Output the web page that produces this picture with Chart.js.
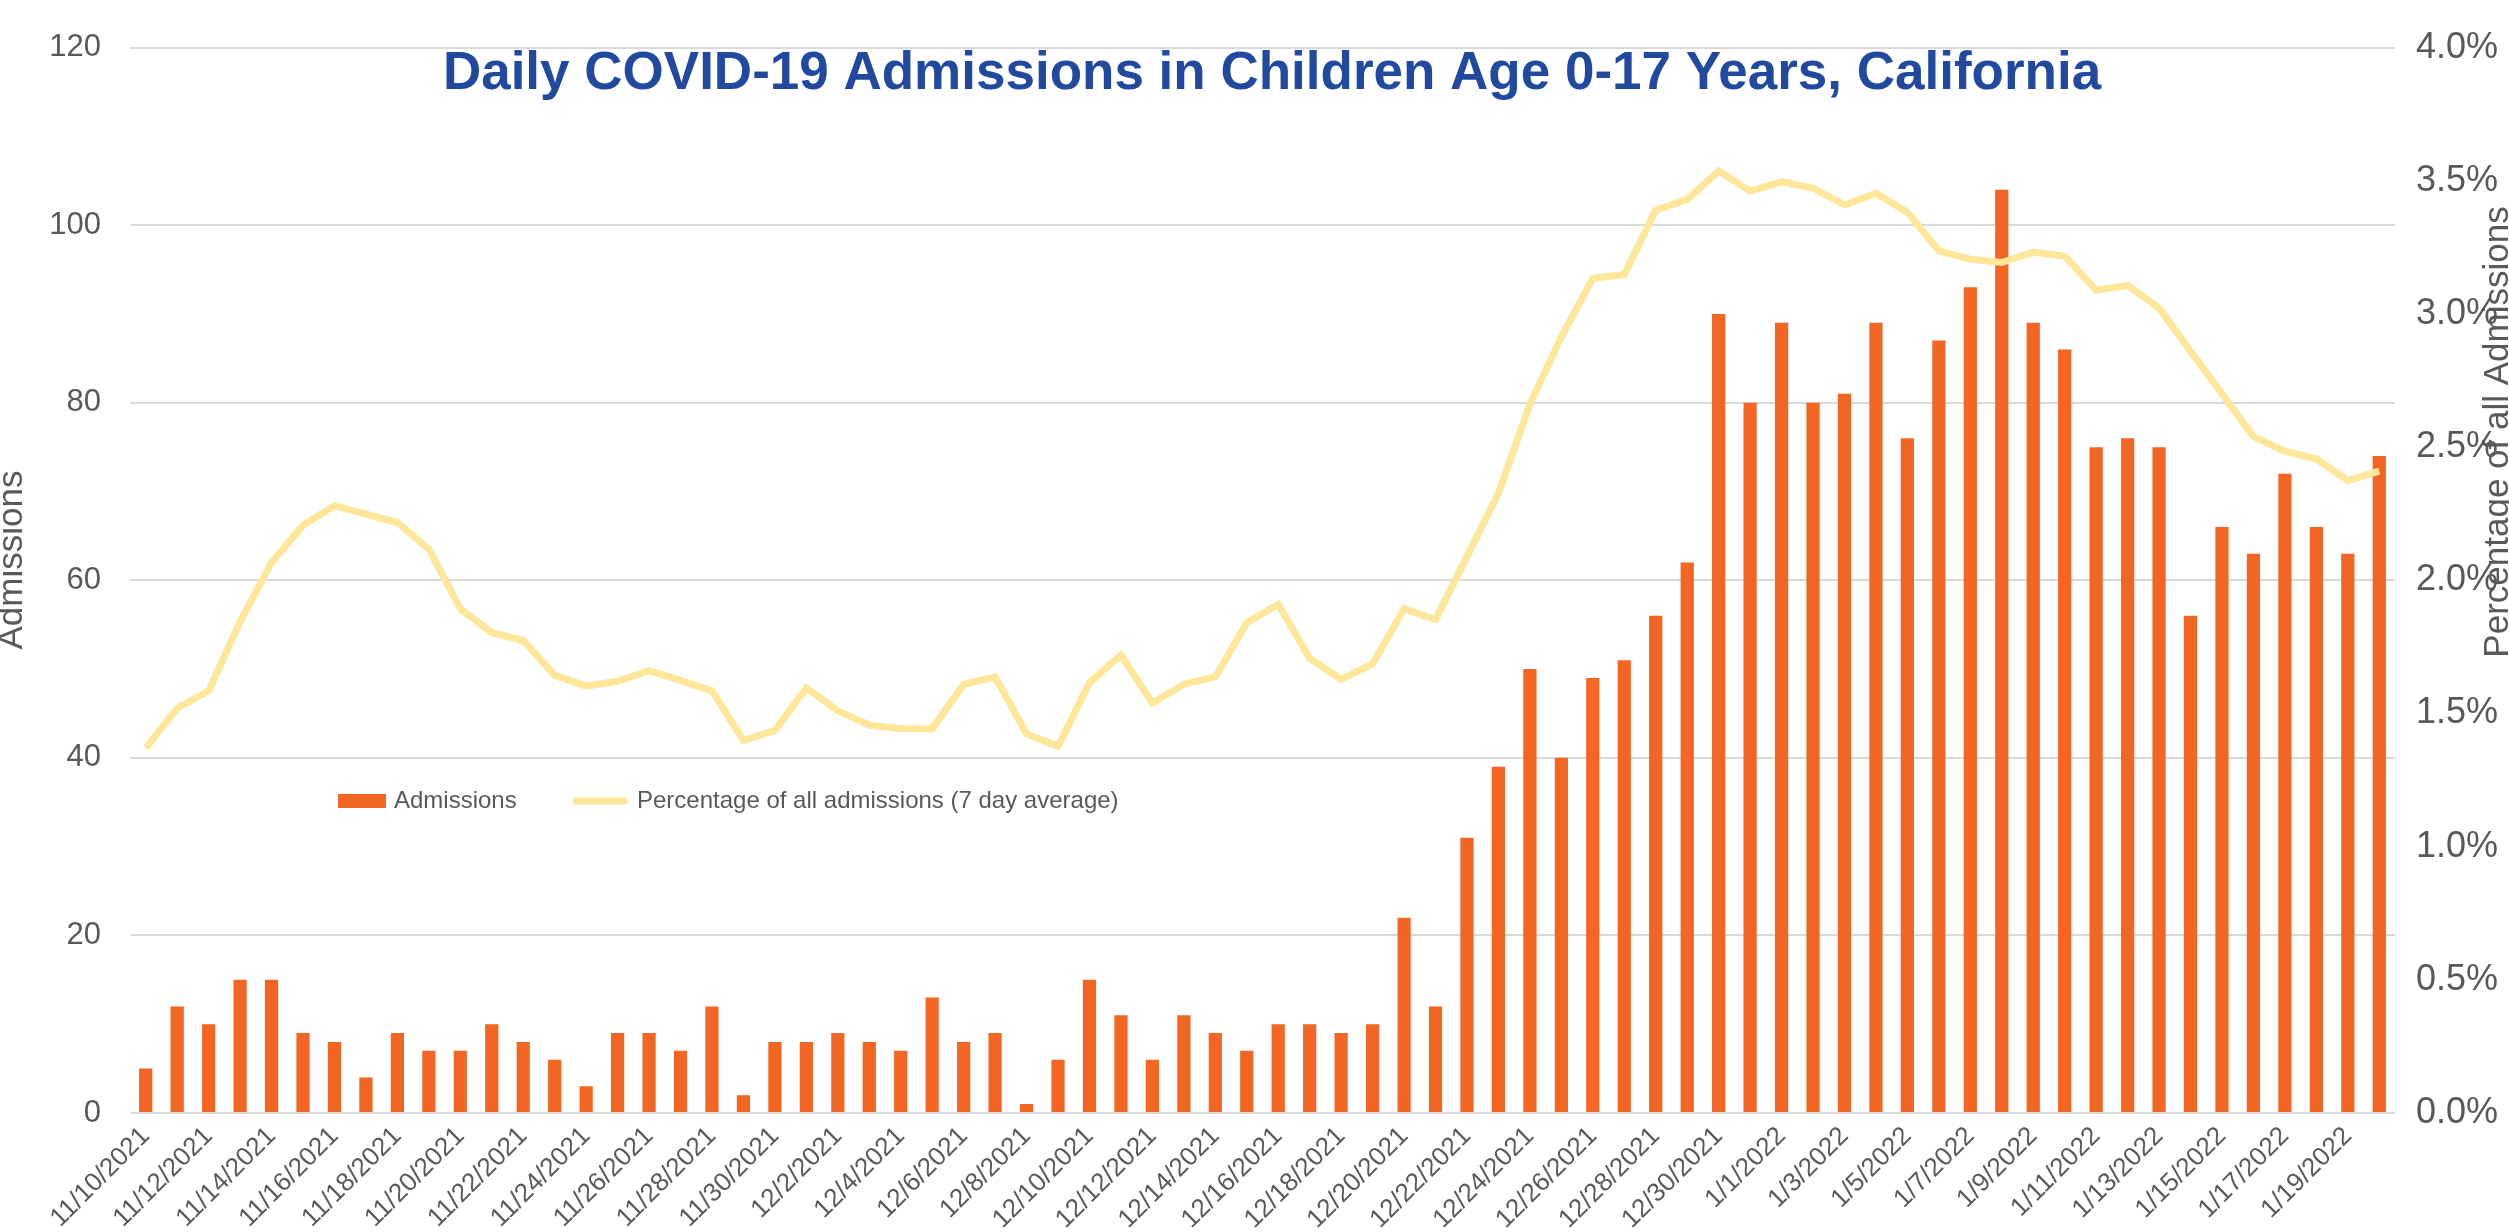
<!DOCTYPE html>
<html>
<head>
<meta charset="utf-8">
<script src="https://cdn.jsdelivr.net/npm/chart.js@4.4.1/dist/chart.umd.min.js"></script>
<style>
  html, body { margin: 0; padding: 0; background: #fff; }
  #wrap { width: 2509px; height: 1232px; }
</style>
</head>
<body>
<div id="wrap"><canvas id="admissionsChart" width="2509" height="1232"></canvas></div>
<script>
// --- Data ---
const dateLabels = [
    '11/10/2021', '11/11/2021', '11/12/2021', '11/13/2021', '11/14/2021', '11/15/2021', '11/16/2021',
    '11/17/2021', '11/18/2021', '11/19/2021', '11/20/2021', '11/21/2021', '11/22/2021', '11/23/2021',
    '11/24/2021', '11/25/2021', '11/26/2021', '11/27/2021', '11/28/2021', '11/29/2021', '11/30/2021',
    '12/1/2021', '12/2/2021', '12/3/2021', '12/4/2021', '12/5/2021', '12/6/2021', '12/7/2021',
    '12/8/2021', '12/9/2021', '12/10/2021', '12/11/2021', '12/12/2021', '12/13/2021', '12/14/2021',
    '12/15/2021', '12/16/2021', '12/17/2021', '12/18/2021', '12/19/2021', '12/20/2021', '12/21/2021',
    '12/22/2021', '12/23/2021', '12/24/2021', '12/25/2021', '12/26/2021', '12/27/2021', '12/28/2021',
    '12/29/2021', '12/30/2021', '12/31/2021', '1/1/2022', '1/2/2022', '1/3/2022', '1/4/2022',
    '1/5/2022', '1/6/2022', '1/7/2022', '1/8/2022', '1/9/2022', '1/10/2022', '1/11/2022',
    '1/12/2022', '1/13/2022', '1/14/2022', '1/15/2022', '1/16/2022', '1/17/2022', '1/18/2022',
    '1/19/2022', '1/20/2022'
];

const admissions = [
    5, 12, 10, 15, 15, 9, 8, 4, 9, 7, 7, 10, 8, 6, 3, 9, 9, 7, 12, 2, 8,
    8, 9, 8, 7, 13, 8, 9, 1, 6, 15, 11, 6, 11, 9, 7, 10, 10, 9, 10, 22, 12,
    31, 39, 50, 40, 49, 51, 56, 62, 90, 80,
    89, 80, 81, 89, 76, 87, 93, 104, 89, 86, 75, 76, 75, 56, 66, 63, 72, 66, 63, 74
];

// percent of all admissions, 7 day average
const pctAllAdmissions = [
    1.37, 1.52, 1.585, 1.845, 2.067, 2.207, 2.28, 2.248, 2.217, 2.117, 1.893, 1.803, 1.774, 1.643,
    1.603, 1.621, 1.661, 1.624, 1.585, 1.398, 1.437,
    1.596, 1.51, 1.456, 1.443, 1.443, 1.609, 1.637, 1.423, 1.377, 1.616, 1.719, 1.539, 1.61, 1.637,
    1.841, 1.909, 1.707, 1.628, 1.686, 1.893, 1.853, 2.09, 2.327, 2.662, 2.914, 3.134, 3.148, 3.39,
    3.43, 3.537, 3.461,
    3.496, 3.473, 3.409, 3.453, 3.382, 3.237, 3.205, 3.193, 3.232, 3.217, 3.089, 3.107, 3.022, 2.86,
    2.70, 2.54, 2.484, 2.456, 2.374, 2.41
];

const chartTitle = 'Daily COVID-19 Admissions in Children Age 0-17 Years, California';
const leftAxisTitle = 'Admissions';
const rightAxisTitle = 'Percentage of all Admissions';
const seriesNames = ['Admissions', 'Percentage of all admissions (7 day average)'];

const FONT = '"Liberation Sans", Arial, sans-serif';
const GREY = '#595959';
const BAR_COLOR = '#F26522';
const LINE_COLOR = '#FFE699';

// --- Title, legend and axis titles drawn over the plot ---
const overlayText = {
    id: 'overlayText',
    afterDraw(chart) {
        const ctx = chart.ctx;
        ctx.save();

        ctx.font = 'bold 53px ' + FONT;
        ctx.fillStyle = '#2149A0';
        ctx.textAlign = 'center';
        ctx.textBaseline = 'middle';
        ctx.fillText(chartTitle, 1272, 74);

        // legend
        const ly = 801;
        ctx.font = '24px ' + FONT;
        ctx.textAlign = 'left';
        ctx.fillStyle = chart.data.datasets[1].backgroundColor;
        ctx.fillRect(338, ly - 7, 48, 14);
        ctx.fillStyle = GREY;
        ctx.fillText(seriesNames[0], 394, ly);
        ctx.strokeStyle = chart.data.datasets[0].borderColor;
        ctx.lineWidth = 7;
        ctx.beginPath();
        ctx.moveTo(573, ly);
        ctx.lineTo(627, ly);
        ctx.stroke();
        ctx.fillText(seriesNames[1], 637, ly);

        // axis titles (partly cut by the canvas edges, as in the source)
        ctx.font = '35px ' + FONT;
        ctx.textAlign = 'center';
        ctx.save();
        ctx.translate(12, 560);
        ctx.rotate(-Math.PI / 2);
        ctx.fillText(leftAxisTitle, 0, 0);
        ctx.restore();
        ctx.save();
        ctx.translate(2498, 432);
        ctx.rotate(-Math.PI / 2);
        ctx.fillText(rightAxisTitle, 0, 0);
        ctx.restore();

        ctx.restore();
    }
};

// --- Chart ---
new Chart(document.getElementById('admissionsChart'), {
    type: 'bar',
    data: {
        labels: dateLabels,
        datasets: [
            {
                type: 'line',
                label: seriesNames[1],
                data: pctAllAdmissions,
                borderColor: LINE_COLOR,
                borderWidth: 7,
                pointRadius: 0,
                tension: 0,
                yAxisID: 'y1',
                order: 0
            },
            {
                type: 'bar',
                label: seriesNames[0],
                data: admissions,
                backgroundColor: BAR_COLOR,
                barPercentage: 0.42,
                categoryPercentage: 1,
                yAxisID: 'y',
                order: 1
            }
        ]
    },
    options: {
        responsive: false,
        devicePixelRatio: 1,
        animation: false,
        layout: { padding: { top: 22, left: 0, right: 0, bottom: 0 } },
        plugins: {
            legend: { display: false },
            title: { display: false },
            tooltip: { enabled: false }
        },
        scales: {
            x: {
                grid: { display: false },
                border: { display: false },
                afterFit: scale => { scale.height = 119; },
                ticks: {
                    autoSkip: false,
                    maxRotation: 45,
                    minRotation: 45,
                    color: GREY,
                    font: { family: FONT, size: 26 },
                    padding: 0,
                    callback: (value, index) => index % 2 === 0 ? dateLabels[index] : ''
                }
            },
            y: {
                position: 'left',
                min: 0,
                max: 120,
                border: { display: false },
                grid: { color: '#D9D9D9', lineWidth: 2, drawTicks: false },
                afterFit: scale => { scale.width = 130; },
                ticks: {
                    stepSize: 20,
                    color: GREY,
                    padding: 29,
                    font: { family: FONT, size: 31 }
                }
            },
            y1: {
                position: 'right',
                min: 0,
                max: 4,
                border: { display: false },
                grid: { drawOnChartArea: false, drawTicks: false },
                afterFit: scale => { scale.width = 114; },
                ticks: {
                    stepSize: 0.5,
                    color: GREY,
                    padding: 21,
                    font: { family: FONT, size: 36 },
                    callback: value => value.toFixed(1) + '%'
                }
            }
        }
    },
    plugins: [overlayText]
});
</script>
</body>
</html>
